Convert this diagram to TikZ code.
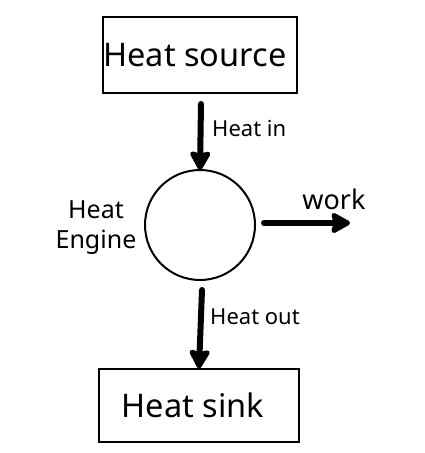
\documentclass[tikz,border=0pt]{standalone}
\usepackage{fontspec}
\setmainfont{Noto Sans}
\usetikzlibrary{arrows.meta}
\begin{document}
\begin{tikzpicture}[x=1pt,y=-1pt,
  box/.style={draw,line width=2pt,minimum width=194pt,minimum height=76pt,inner sep=0pt,font=\fontsize{32.5}{36}\selectfont},
  engine/.style={draw,circle,line width=2pt,minimum size=110pt,inner sep=0pt},
  flow/.style={line width=6pt,line cap=round,-{Stealth[width=24pt,length=22pt,inset=3pt,round]}},
  lbl/.style={inner sep=0pt,anchor=west,font=\fontsize{22}{24}\selectfont}]
\useasboundingbox (0,0) rectangle (425,453);
\node[box] (src) at (200,55) {Heat source\kern10pt\null};
\node[engine] (eng) at (200,225) {};
\node[box,minimum width=200pt,minimum height=73pt] (sink) at (199,405) {Heat sink\kern12pt\null};
\coordinate (w) at (350,223);
\draw[flow] (src.south) ++(1,10) coordinate (a1) (a1) -- ([yshift=-1pt]eng.north);
\draw[flow] (eng.south) ++(2,9) coordinate (a2) (a2) -- ([yshift=-1pt]sink.north);
\draw[flow] (eng.east) ++(8,-2) coordinate (a3) (a3) -- (w);
\node[lbl] (hin) at (212,128) {Heat in};
\node[lbl] (hout) at (210,317) {Heat out};
\node[inner sep=0pt,font=\fontsize{27}{30}\selectfont] (wk) at (334,199) {work};
\node[inner sep=0pt,align=center,font=\fontsize{25}{30}\selectfont] (he) at (96,228) {Heat\\Engine};
\end{tikzpicture}
\end{document}
